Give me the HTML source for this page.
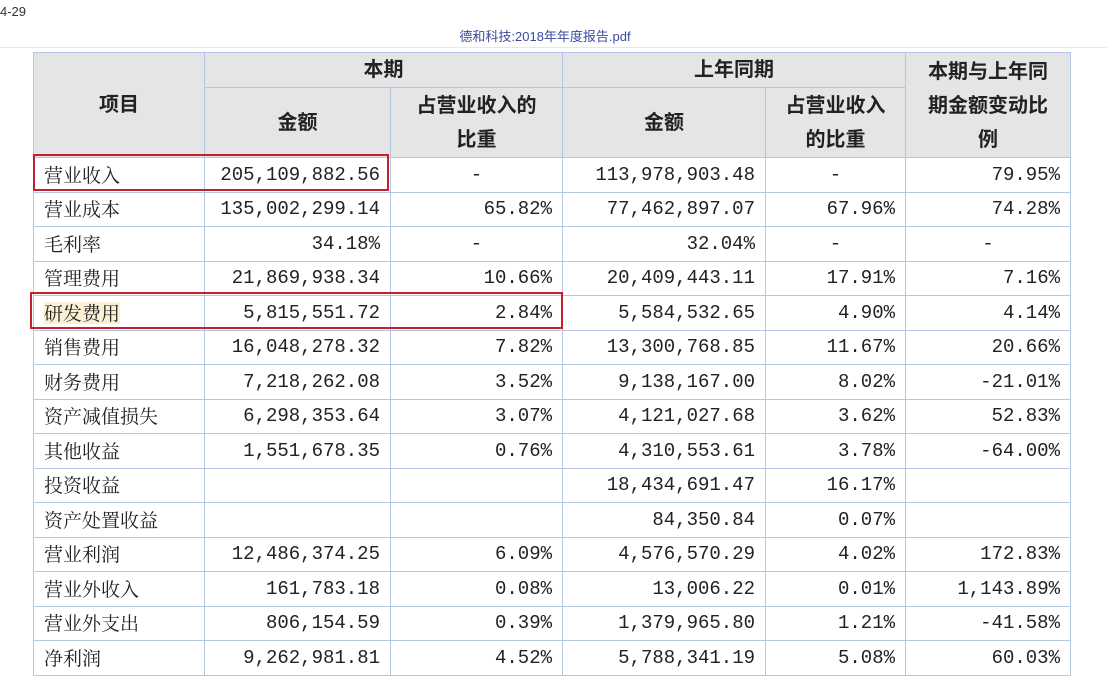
<!DOCTYPE html>
<html><head><meta charset="utf-8"><style>
body{margin:0;width:1107px;height:691px;background:#fff;position:relative;overflow:hidden;font-family:"Liberation Sans","Noto Sans CJK SC",sans-serif}
.top{position:absolute;left:0;top:4px;font-size:13px;color:#333}
.title{position:absolute;left:0;width:1090px;text-align:center;top:26px;font-size:13px;color:#3b4aa0}
.rule{position:absolute;left:0;right:0;top:47px;height:1px;background:#e4e8f0}
table{position:absolute;left:33px;top:52px;border-collapse:collapse;table-layout:fixed}
td{border:1.5px solid #b4c6e4;padding:0 8px;font-size:19px;height:34.5px;box-sizing:border-box;white-space:nowrap;color:#222;line-height:22px;vertical-align:middle}
.h{background:#e5e5e5;text-align:center;font-weight:bold;font-size:20px;font-family:"Liberation Sans","Noto Sans CJK SC",sans-serif;line-height:34px;color:#222}
.n{text-align:right;font-family:"Liberation Mono","Noto Serif CJK SC",monospace;padding-right:10px}
.c{text-align:center;font-family:"Liberation Mono",monospace}
.l{font-family:"Noto Serif CJK SC",serif;padding-left:10px}
.l span{display:inline-block;line-height:22px;height:22px;vertical-align:middle;position:relative;top:-1px}
.box{position:absolute;border:2.5px solid #c4202c;box-sizing:border-box}
</style></head><body>
<div class="top">4-29</div>
<div class="title">德和科技:2018年年度报告.pdf</div>
<div class="rule"></div>
<table>
<colgroup><col style="width:171px"><col style="width:186px"><col style="width:172px"><col style="width:203px"><col style="width:140px"><col style="width:165px"></colgroup>
<tr style="height:35px"><td class="h" rowspan="2">项目</td><td class="h" colspan="2" style="height:35px">本期</td><td class="h" colspan="2">上年同期</td><td class="h" rowspan="2" style="vertical-align:top;padding-top:2px">本期与上年同<br>期金额变动比<br>例</td></tr>
<tr style="height:68px"><td class="h" style="height:68px">金额</td><td class="h">占营业收入的<br>比重</td><td class="h">金额</td><td class="h">占营业收入<br>的比重</td></tr>
<tr><td class="l"><span>营业收入</span></td><td class="n">205,109,882.56</td><td class="c">-</td><td class="n">113,978,903.48</td><td class="c">-</td><td class="n">79.95%</td></tr>
<tr><td class="l"><span>营业成本</span></td><td class="n">135,002,299.14</td><td class="n">65.82%</td><td class="n">77,462,897.07</td><td class="n">67.96%</td><td class="n">74.28%</td></tr>
<tr><td class="l"><span>毛利率</span></td><td class="n">34.18%</td><td class="c">-</td><td class="n">32.04%</td><td class="c">-</td><td class="c">-</td></tr>
<tr><td class="l"><span>管理费用</span></td><td class="n">21,869,938.34</td><td class="n">10.66%</td><td class="n">20,409,443.11</td><td class="n">17.91%</td><td class="n">7.16%</td></tr>
<tr><td class="l"><span style="background:#fbf0d4">研发费用</span></td><td class="n">5,815,551.72</td><td class="n">2.84%</td><td class="n">5,584,532.65</td><td class="n">4.90%</td><td class="n">4.14%</td></tr>
<tr><td class="l"><span>销售费用</span></td><td class="n">16,048,278.32</td><td class="n">7.82%</td><td class="n">13,300,768.85</td><td class="n">11.67%</td><td class="n">20.66%</td></tr>
<tr><td class="l"><span>财务费用</span></td><td class="n">7,218,262.08</td><td class="n">3.52%</td><td class="n">9,138,167.00</td><td class="n">8.02%</td><td class="n">-21.01%</td></tr>
<tr><td class="l"><span>资产减值损失</span></td><td class="n">6,298,353.64</td><td class="n">3.07%</td><td class="n">4,121,027.68</td><td class="n">3.62%</td><td class="n">52.83%</td></tr>
<tr><td class="l"><span>其他收益</span></td><td class="n">1,551,678.35</td><td class="n">0.76%</td><td class="n">4,310,553.61</td><td class="n">3.78%</td><td class="n">-64.00%</td></tr>
<tr><td class="l"><span>投资收益</span></td><td class="n"></td><td class="n"></td><td class="n">18,434,691.47</td><td class="n">16.17%</td><td class="n"></td></tr>
<tr><td class="l"><span>资产处置收益</span></td><td class="n"></td><td class="n"></td><td class="n">84,350.84</td><td class="n">0.07%</td><td class="n"></td></tr>
<tr><td class="l"><span>营业利润</span></td><td class="n">12,486,374.25</td><td class="n">6.09%</td><td class="n">4,576,570.29</td><td class="n">4.02%</td><td class="n">172.83%</td></tr>
<tr><td class="l"><span>营业外收入</span></td><td class="n">161,783.18</td><td class="n">0.08%</td><td class="n">13,006.22</td><td class="n">0.01%</td><td class="n">1,143.89%</td></tr>
<tr><td class="l"><span>营业外支出</span></td><td class="n">806,154.59</td><td class="n">0.39%</td><td class="n">1,379,965.80</td><td class="n">1.21%</td><td class="n">-41.58%</td></tr>
<tr><td class="l"><span>净利润</span></td><td class="n">9,262,981.81</td><td class="n">4.52%</td><td class="n">5,788,341.19</td><td class="n">5.08%</td><td class="n">60.03%</td></tr>
</table>
<div class="box" style="left:33px;top:154px;width:356px;height:37px"></div>
<div class="box" style="left:30px;top:292px;width:533px;height:37px"></div>
</body></html>
